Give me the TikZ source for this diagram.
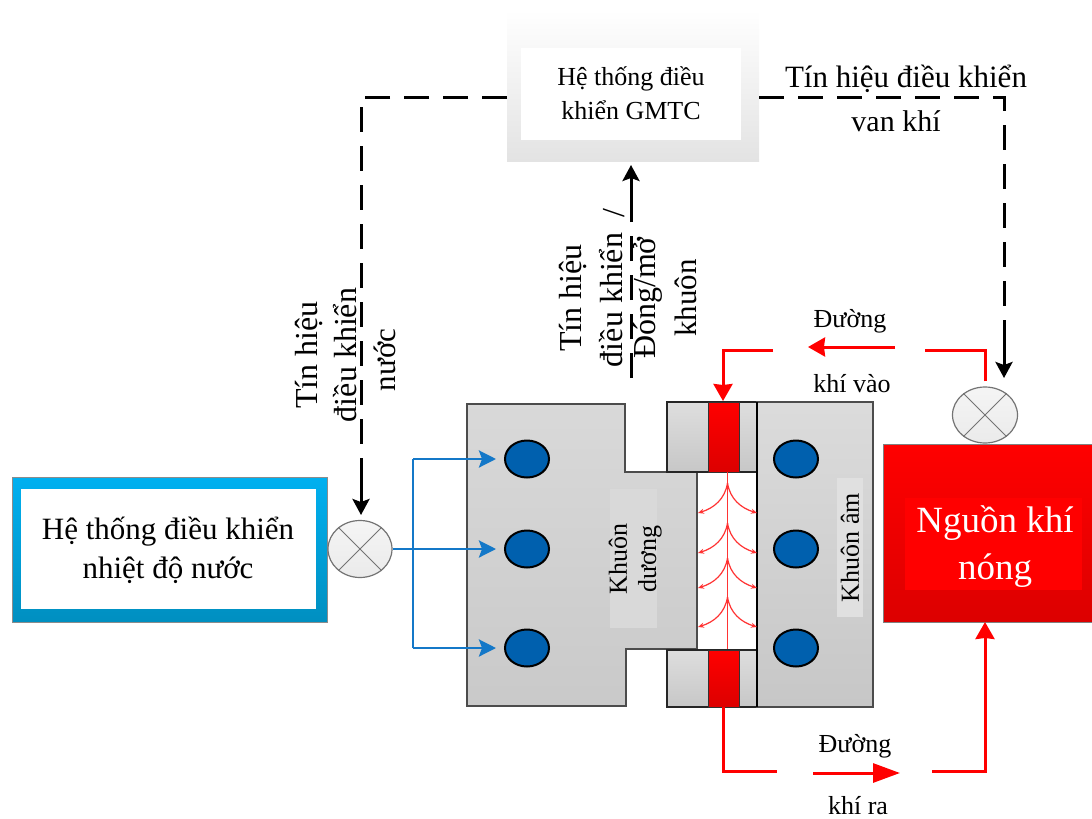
\documentclass[tikz,border=0pt]{standalone}
\usepackage{fontspec}
\setmainfont{Liberation Serif}
\usepackage{tikz}
\usetikzlibrary{arrows.meta,shapes.geometric}
\definecolor{waterBlue}{HTML}{1478C8}
\definecolor{coolBlue}{HTML}{00B0F0}
\definecolor{coolDark}{HTML}{008FC0}
\definecolor{holeBlue}{HTML}{0060AE}
\definecolor{hotRed}{HTML}{FF0000}
\definecolor{hotDark}{HTML}{DC0000}
\tikzset{
    txt/.style={inner sep=0pt, align=center, font=\fontsize{#1}{#1}\selectfont},
    box/.style={rectangle, inner sep=0pt, outer sep=0pt},
    valve/.style={ellipse, draw=black!55, line width=1.2pt, inner sep=0pt, top color=black!4, bottom color=black!8},
    hole/.style={ellipse, draw=black, line width=2pt, fill=holeBlue, minimum width=44pt, minimum height=37pt, inner sep=0pt},
    mould/.style={draw=black!70, line width=1.6pt, top color=black!15, bottom color=black!21},
    signal/.style={draw=black, line width=3pt, dash pattern=on 25pt off 14pt},
    sigtip/.style={draw=black, line width=3pt, -{Stealth[length=16pt,width=17pt,inset=3pt]}},
    water/.style={draw=waterBlue, line width=2.8pt},
    watertip/.style={water, shorten >=8pt, -{Stealth[length=17pt,width=17pt,inset=3pt]}},
    gas/.style={draw=hotRed, line width=3pt},
    gastip/.style={gas, -{Stealth[length=17pt,width=19pt,inset=1pt]}},
    gaslong/.style={gas, -{Stealth[length=27pt,width=19pt,inset=0pt]}},
    flow/.style={draw=hotRed!80, line width=1.2pt, -{Stealth[length=6pt,width=5pt]}}
}
\begin{document}
\begin{tikzpicture}[x=1pt,y=-1pt]
    \useasboundingbox (0,0) rectangle (1092,819);

    % gmtc controller
    \node[box, minimum width=252pt, minimum height=151pt, top color=white, bottom color=black!11] (gmtc) at (633,85.5) {};
    \node[box, fill=white, minimum width=220pt, minimum height=92pt] (gmtcin) at (631,94) {};
    \node[txt=26] (gmtca) at (631,79) {Hệ thống điều};
    \node[txt=26] (gmtcb) at (631,110) {khiển GMTC};

    % water side
    \node[box, draw=black!45, line width=1pt, minimum width=315pt, minimum height=145pt, top color=coolBlue, bottom color=coolDark] (wbox) at (169.5,549.5) {};
    \node[box, fill=white, minimum width=295pt, minimum height=120pt] (wboxin) at (168.5,549) {};
    \node[txt=31] (wa) at (168,532) {Hệ thống điều khiển};
    \node[txt=31] (wb) at (168,570) {nhiệt độ nước};
    \node[valve, minimum width=64pt, minimum height=57pt] (vw) at (360,549) {};
    \draw[black!55, line width=1pt] (vw.45) -- (vw.225) (vw.135) -- (vw.315);

    % mould halves
    \draw[mould] (467,404) -- (625,404) -- (625,472) -- (697,472) -- (697,649) -- (626,649) -- (626,706) -- (467,706) -- cycle;
    \node[box, fill=white, minimum width=59pt, minimum height=177pt] (cavity) at (727.5,560.5) {};
    \node[box, draw=black!85, line width=1.6pt, minimum width=90pt, minimum height=70pt, top color=black!13, bottom color=black!22] (blocka) at (712,437) {};
    \node[box, draw=black!85, line width=1.6pt, minimum width=90pt, minimum height=57pt, top color=black!13, bottom color=black!22] (blockb) at (712,678.5) {};
    \node[box, draw=black!80, line width=1pt, minimum width=31pt, minimum height=70pt, top color=hotRed, bottom color=hotDark] (seala) at (723.5,437) {};
    \node[box, draw=black!80, line width=1pt, minimum width=31pt, minimum height=57pt, top color=hotRed, bottom color=hotDark] (sealb) at (723.5,678.5) {};
    \node[box, draw=black!70, line width=1.6pt, minimum width=116pt, minimum height=305pt, top color=black!14, bottom color=black!22] (femme) at (815,554.5) {};
    \draw[black, line width=1.4pt] (femme.north west) -- (femme.south west);

    \node[box, fill=black!15, minimum width=47pt, minimum height=139pt] (tagd) at (633.5,558.5) {};
    \node[box, fill=black!12, minimum width=26pt, minimum height=139pt] (taga) at (850,547.5) {};
    \node[txt=26, rotate=90] (ka) at (618,559) {Khuôn};
    \node[txt=26, rotate=90] (kb) at (650,559) {dương};
    \node[txt=26, rotate=90] (kc) at (850,547.5) {Khuôn âm};

    % cooling holes
    \foreach \nm/\yy in {a/459,b/549,c/648} {
        \node[hole] (hl\nm) at (527,\yy) {};
        \node[hole] (hr\nm) at (796,\yy) {};
    }

    % hot gas in the cavity
    \coordinate (ctop) at (727.5,472);
    \coordinate (cbot) at (727.5,649);
    \draw[hotRed!80, line width=1.8pt] (ctop) -- (cbot);
    \foreach \ya in {483,523,558,597} {
        \coordinate (fa) at (727.5,\ya);
        \coordinate (fl) at (698,\ya+30);
        \coordinate (fr) at (757,\ya+30);
        \draw[flow] (fa) .. controls (725,\ya+16) and (714,\ya+25) .. (fl);
        \draw[flow] (fa) .. controls (730,\ya+16) and (741,\ya+25) .. (fr);
    }

    % hot gas source
    \node[box, draw=black!50, line width=1pt, minimum width=209pt, minimum height=178pt, top color=hotRed, bottom color=hotDark] (src) at (987.5,533) {};
    \node[box, fill=hotRed, minimum width=177pt, minimum height=92pt] (srcin) at (993.5,544) {};
    \node[txt=37, text=white] (srca) at (995,523) {Nguồn khí};
    \node[txt=37, text=white] (srcb) at (995,571) {nóng};
    \node[valve, minimum width=65pt, minimum height=56pt] (vg) at (985,415) {};
    \draw[black!55, line width=1pt] (vg.45) -- (vg.225) (vg.135) -- (vg.315);

    % control signals
    \coordinate (la) at (361,97);
    \coordinate (lb) at (361,482);
    \coordinate (ra) at (1004,97);
    \coordinate (rb) at (1004,345);
    \coordinate (ma) at (631,378);
    \coordinate (mb) at (631,200);
    \draw[signal] (gmtc.west |- la) -- (la) -- (lb);
    \draw[sigtip] (lb) -- (361,515);
    \draw[signal] (gmtc.east |- ra) -- (ra) -- (rb);
    \draw[sigtip] (rb) -- (1004,378);
    \draw[signal] (ma) -- (mb);
    \draw[sigtip] (mb) -- (631,165);

    \node[txt=31] (sa) at (906,79) {Tín hiệu điều khiển};
    \node[txt=30] (sb) at (896,121) {van khí};
    \node[txt=32, rotate=90] (sc) at (309,355) {Tín hiệu};
    \node[txt=32, rotate=90] (sd) at (345,355) {điều khiển};
    \node[txt=31, rotate=90] (se) at (385,360) {nước};
    \node[txt=32, rotate=90] (sf) at (573,298) {Tín hiệu};
    \node[txt=32, rotate=90] (sg) at (611,300) {điều khiển};
    \node[txt=32, rotate=90] (sj) at (614,213) {/};
    \node[txt=32, rotate=90] (sh) at (648,298) {Đóng/mở};
    \node[txt=31, rotate=90] (si) at (686,298) {khuôn};

    % water lines
    \coordinate (wj) at (413,549);
    \draw[watertip] (vw.east) -- (hlb.west);
    \draw[water] (413,648) -- (413,459);
    \draw[watertip] (413,459) -- (hla.west);
    \draw[watertip] (413,648) -- (hlc.west);

    % gas lines
    \coordinate (ia) at (925,350);
    \coordinate (ib) at (895,347);
    \coordinate (ic) at (808,347);
    \coordinate (id) at (773,350);
    \draw[gas, shorten <=5pt] (vg.north) -- (985,350) -- (ia);
    \draw[gastip] (ib) -- (ic);
    \draw[gastip] (id) -- (723,350) -- (723,401);
    \coordinate (oa) at (777,771);
    \coordinate (ob) at (813,773);
    \coordinate (oc) at (900,773);
    \coordinate (od) at (932,771);
    \draw[gas] (723,707) -- (723,771) -- (oa);
    \draw[gaslong] (ob) -- (oc);
    \draw[gastip] (od) -- (985,771) -- (985,622);

    \node[txt=26] (ga) at (850,321) {Đường};
    \node[txt=26] (gb) at (852,384) {khí vào};
    \node[txt=26] (gc) at (855,746) {Đường};
    \node[txt=26] (gd) at (858,806) {khí ra};
\end{tikzpicture}
\end{document}
